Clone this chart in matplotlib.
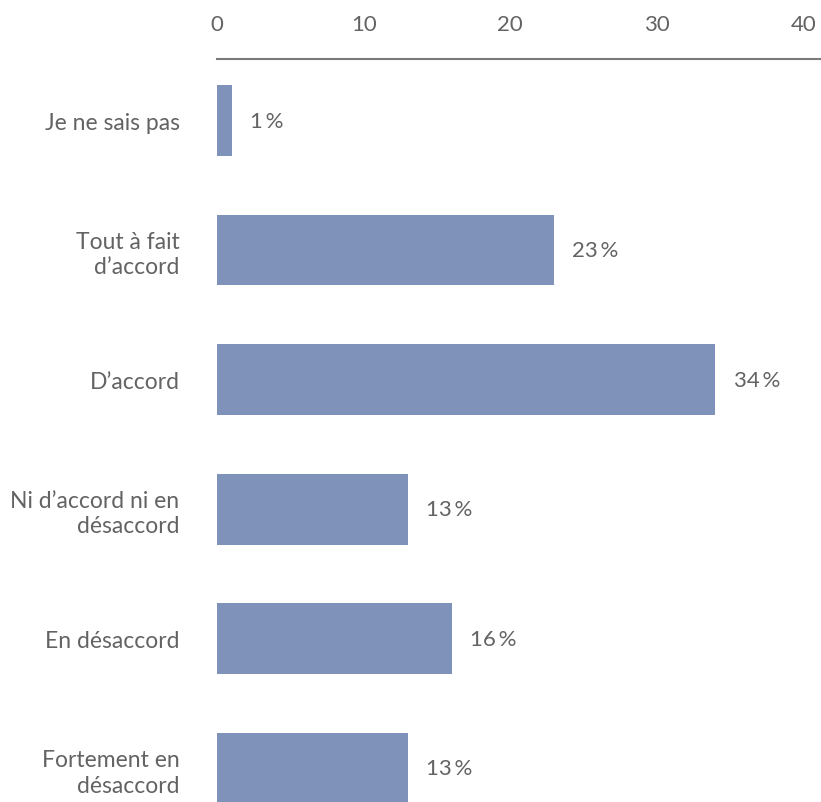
import matplotlib.pyplot as plt
import numpy as np

# Réponses au sondage (en %)
categories = [
    "Je ne sais pas",
    "Tout à fait\nd\u2019accord",
    "D\u2019accord",
    "Ni d\u2019accord ni en\ndésaccord",
    "En désaccord",
    "Fortement en\ndésaccord",
]
values = [1, 23, 34, 13, 16, 13]
x_ticks = [0, 10, 20, 30, 40]

BAR_COLOR = "#7f92ba"
TEXT_COLOR = "#636363"
AXIS_COLOR = "#7a7a7a"

plt.rcParams["font.family"] = ["Lato", "DejaVu Sans"]

fig = plt.figure(figsize=(8.21, 8.03), dpi=100)
ax = fig.add_axes([217 / 821, 0, (821 - 217) / 821, 743 / 803])

y = np.arange(len(categories))
ax.barh(y, values, height=0.545, color=BAR_COLOR)

# étiquettes de valeur à droite des barres
for yi, v in zip(y, values):
    ax.annotate(f"{v}\u2009%", xy=(v, yi), xytext=(13, 0), textcoords="offset points",
                ha="left", va="center", fontsize=16, color=TEXT_COLOR,
                family=["Lato", "DejaVu Sans"])

ax.set_xlim(0, 41.2)
ax.set_ylim(5.26, -0.475)

ax.xaxis.tick_top()
ax.set_xticks(x_ticks)
ax.set_xticklabels([str(t) for t in x_ticks])
ax.tick_params(axis="x", length=0, pad=18, labelsize=16, labelcolor=TEXT_COLOR)

ax.set_yticks(y)
ax.set_yticklabels(categories, linespacing=1.25)
ax.tick_params(axis="y", length=0, pad=27, labelsize=16.5, labelcolor=TEXT_COLOR)

for side in ["left", "right", "bottom"]:
    ax.spines[side].set_visible(False)
ax.spines["top"].set_color(AXIS_COLOR)
ax.spines["top"].set_linewidth(1.5)

fig.savefig("out.png", dpi=100)
